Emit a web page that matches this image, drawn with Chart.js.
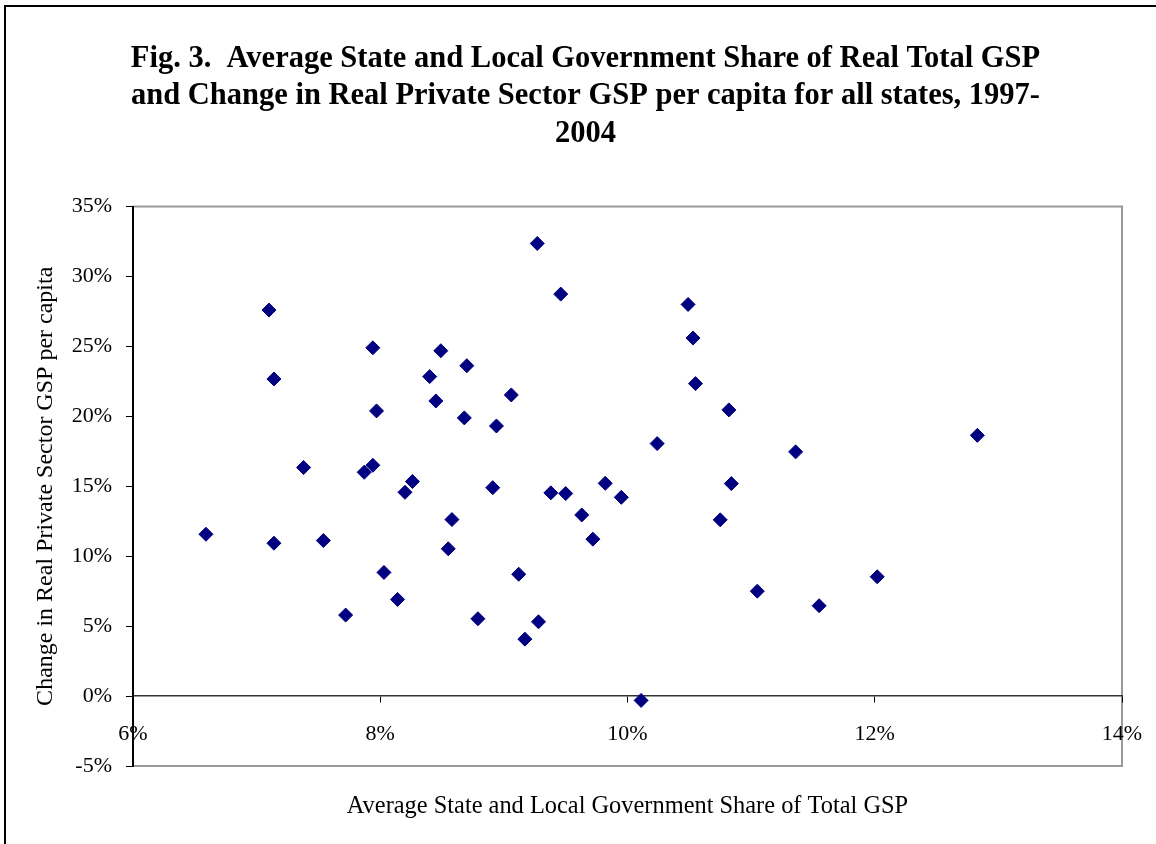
<!DOCTYPE html>
<html>
<head>
<meta charset="utf-8">
<script src="https://cdn.jsdelivr.net/npm/chart.js@4.4.1/dist/chart.umd.min.js"></script>
<style>
    html, body { margin: 0; padding: 0; background: #fff; overflow: hidden; }
    #wrap { position: relative; width: 1156px; height: 844px; }
    #frame {
        position: absolute; left: 4px; top: 5px; width: 1200px; height: 900px;
        border: 2px solid #000; pointer-events: none;
    }
    canvas { display: block; }
</style>
</head>
<body>
<div id="wrap">
    <canvas id="gspChart" width="1156" height="844"></canvas>
    <div id="frame"></div>
</div>
<script>
// Average state & local government share of total GSP (%), one value per state
const govShare = [
    6.59, 7.10, 7.14, 7.14, 7.38, 7.54, 7.72, 7.87, 7.94, 7.94,
    7.97, 8.03, 8.14, 8.20, 8.26, 8.40, 8.45, 8.49, 8.55, 8.58,
    8.68, 8.70, 8.79, 8.91, 8.94, 9.06, 9.12, 9.17, 9.27, 9.28,
    9.38, 9.46, 9.50, 9.63, 9.72, 9.82, 9.95, 10.11, 10.24, 10.49,
    10.53, 10.55, 10.75, 10.82, 10.84, 11.05, 11.36, 11.55, 12.02, 12.83
];

// Change in real private sector GSP per capita, 1997-2004 (%)
const privGrowth = [
    11.57, 27.60, 22.67, 10.93, 16.34, 11.12, 5.79, 16.00, 16.50, 24.90,
    20.39, 8.84, 6.91, 14.57, 15.34, 22.84, 21.10, 24.69, 10.53, 12.62,
    19.89, 23.62, 5.53, 14.90, 19.31, 21.53, 8.71, 4.07, 32.36, 5.31,
    14.53, 28.74, 14.48, 12.95, 11.22, 15.21, 14.21, -0.31, 18.05, 28.00,
    25.60, 22.34, 12.60, 20.46, 15.19, 7.50, 17.46, 6.46, 8.53, 18.64
];

const xTicks = [6, 8, 10, 12, 14];
const yTicks = [-5, 0, 5, 10, 15, 20, 25, 30, 35];

const titleLines = [
    'Fig. 3.  Average State and Local Government Share of Real Total GSP',
    'and Change in Real Private Sector GSP per capita for all states, 1997-',
    '2004'
];

const serif = '"Liberation Serif", "Times New Roman", Times, serif';

const points = govShare.map((x, i) => ({ x: x, y: privGrowth[i] }));

// white page + grey box round the plot area
const plotFrame = {
    id: 'plotFrame',
    beforeDraw(chart) {
        const { ctx, chartArea: a } = chart;
        ctx.save();
        ctx.fillStyle = '#fff';
        ctx.fillRect(0, 0, chart.width, chart.height);
        ctx.strokeStyle = '#999';
        ctx.lineWidth = 2;
        ctx.strokeRect(a.left, a.top, a.right - a.left, a.bottom - a.top);
        ctx.restore();
    }
};

const ctx = document.getElementById('gspChart').getContext('2d');

new Chart(ctx, {
    type: 'scatter',
    data: {
        datasets: [{
            data: points,
            pointStyle: 'rectRot',
            pointRadius: 7,
            pointBorderWidth: 1,
            backgroundColor: '#000080',
            borderColor: '#000080'
        }]
    },
    plugins: [plotFrame],
    options: {
        responsive: false,
        animation: false,
        devicePixelRatio: 1,
        layout: { padding: { left: 15, right: 0, top: 0, bottom: 0 } },
        plugins: {
            legend: { display: false },
            tooltip: { enabled: false },
            title: {
                display: true,
                text: titleLines,
                color: '#000',
                font: { family: serif, size: 30.5, weight: 'bold', lineHeight: 1.23 },
                padding: { top: 40, bottom: 54 }
            }
        },
        scales: {
            x: {
                type: 'linear',
                position: { y: 0 },
                min: 6,
                max: 14,
                afterBuildTicks: s => { s.ticks = xTicks.map(v => ({ value: v })); },
                // labels sit below the zero line, keep them from squeezing the plot
                afterFit: s => { s.paddingLeft = 0; s.paddingRight = 0; },
                ticks: {
                    color: '#000',
                    font: { family: serif, size: 22 },
                    padding: 19,
                    callback: v => v + '%'
                },
                grid: {
                    display: true,
                    drawOnChartArea: false,
                    drawTicks: true,
                    tickLength: 6,
                    color: '#000'
                },
                border: { display: true, color: '#333', width: 1.5 }
            },
            xTitle: {
                type: 'linear',
                position: 'bottom',
                afterFit: s => { s.height = 78; },
                ticks: { display: false },
                grid: { display: false },
                border: { display: false },
                title: {
                    display: true,
                    text: 'Average State and Local Government Share of Total GSP',
                    color: '#000',
                    font: { family: serif, size: 24.4 },
                    padding: { top: 0, bottom: 23 }
                }
            },
            y: {
                type: 'linear',
                position: 'left',
                min: -5,
                max: 35,
                afterFit: s => { s.width = 118; },
                afterBuildTicks: s => { s.ticks = yTicks.map(v => ({ value: v })); },
                ticks: {
                    color: '#000',
                    font: { family: serif, size: 22 },
                    padding: 14,
                    callback: v => v + '%'
                },
                grid: {
                    display: true,
                    drawOnChartArea: false,
                    drawTicks: true,
                    tickLength: 7,
                    color: '#000'
                },
                border: { display: true, color: '#000', width: 2 },
                title: {
                    display: true,
                    text: 'Change in Real Private Sector GSP per capita',
                    color: '#000',
                    font: { family: serif, size: 24 },
                    padding: { top: 16, bottom: 0 }
                }
            },
            yRight: {
                type: 'linear',
                position: 'right',
                afterFit: s => { s.width = 34; },
                ticks: { display: false },
                grid: { display: false },
                border: { display: false }
            }
        }
    }
});
</script>
</body>
</html>
